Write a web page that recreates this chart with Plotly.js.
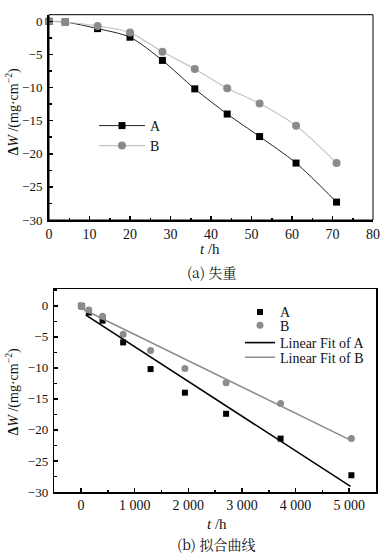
<!DOCTYPE html>
<html><head><meta charset="utf-8">
<script src="https://cdn.plot.ly/plotly-3.0.1.min.js"></script>
<style>html,body{margin:0;padding:0;background:#fff}#c{width:385px;height:557px}</style>
</head><body><div id="c"></div>
<script>
// time (h) for plot (a)
var tHours = [0, 4, 12, 20, 28, 36, 44, 52, 61, 71];
// x values for plot (b) (h)
var tB = [0, 16, 144, 400, 784, 1296, 1936, 2704, 3721, 5041];
var wA = [0, -0.1, -1.1, -2.4, -5.9, -10.2, -14.0, -17.4, -21.4, -27.3];
var wB = [0, -0.1, -0.7, -1.7, -4.6, -7.2, -10.1, -12.4, -15.75, -21.4];
// fitted lines endpoints (b)
var fitAx = [90, 5025];
var fitAy = [-1.5, -29.1];
var fitBx = [0, 5015];
var fitBy = [-0.4, -21.6];
var seriesNames = ['A', 'B', 'Linear Fit of A', 'Linear Fit of B'];

var serif = 'Liberation Serif';
var cap = 'Noto Serif CJK SC';

var traces = [
  {x: tHours, y: wA, name: seriesNames[0], mode: 'lines+markers', line: {shape: 'spline', smoothing: 0.8, color: '#222', width: 1},
   marker: {symbol: 'square', size: 7, color: '#000'}, xaxis: 'x', yaxis: 'y', legend: 'legend', cliponaxis: false},
  {x: tHours, y: wB, name: seriesNames[1], mode: 'lines+markers', line: {shape: 'spline', smoothing: 0.8, color: '#c4c4c4', width: 1.2},
   marker: {symbol: 'circle', size: 8, color: '#8a8a8a'}, xaxis: 'x', yaxis: 'y', legend: 'legend6', cliponaxis: false},
  {x: tB, y: wA, name: seriesNames[0], mode: 'markers', marker: {symbol: 'square', size: 6, color: '#000'},
   xaxis: 'x2', yaxis: 'y2', legend: 'legend2', cliponaxis: false},
  {x: tB, y: wB, name: seriesNames[1], mode: 'markers', marker: {symbol: 'circle', size: 7, color: '#8c8c8c'},
   xaxis: 'x2', yaxis: 'y2', legend: 'legend3', cliponaxis: false},
  {x: fitAx, y: fitAy, name: seriesNames[2], mode: 'lines', line: {color: '#000', width: 1.6},
   xaxis: 'x2', yaxis: 'y2', legend: 'legend4'},
  {x: fitBx, y: fitBy, name: seriesNames[3], mode: 'lines', line: {color: '#8c8c8c', width: 1.6},
   xaxis: 'x2', yaxis: 'y2', legend: 'legend5'}
];

var W = 385, H = 557;
function px(x){return x / W;}
function py(y){return 1 - y / H;}

function axBase(size){
  return {showgrid: false, zeroline: false, ticks: 'inside', ticklen: 4, tickwidth: 1.5, tickcolor: '#000',
    showline: true, linecolor: '#000', tickfont: {family: serif, size: size, color: '#111'}};
}

function itemLegend(xLeft, yTop, iw){
  return {x: px(xLeft), y: py(yTop), xanchor: 'left', yanchor: 'top', bgcolor: 'rgba(0,0,0,0)', itemwidth: iw,
    font: {family: serif, size: 14, color: '#111'}};
}

var layout = {
  width: W, height: H, margin: {l: 0, r: 0, t: 0, b: 0},
  paper_bgcolor: '#fff', plot_bgcolor: '#fff', showlegend: true,
  font: {family: serif, color: '#111'},
  separators: '. ',
  xaxis: Object.assign(axBase(14), {domain: [px(49), px(373)], range: [0, 80], dtick: 10, anchor: 'y', linewidth: 2,
    minor: {ticks: 'inside', dtick: 5, ticklen: 2.5, tickwidth: 1.5, tickcolor: '#000'}}),
  yaxis: Object.assign(axBase(13), {domain: [py(220), py(14.7)], range: [-30, 1], dtick: 5, anchor: 'x', linewidth: 2,
    ticklabelstandoff: 2, minor: {ticks: 'inside', dtick: 2.5, ticklen: 2.5, tickwidth: 1.5, tickcolor: '#000'}}),
  xaxis2: Object.assign(axBase(14), {domain: [px(54.3), px(376)], range: [-500, 5500], dtick: 1000, tickformat: ',d', anchor: 'y2',
    linewidth: 1.5, mirror: true, minor: {ticks: 'inside', dtick: 500, ticklen: 2.5, tickwidth: 1.5, tickcolor: '#000'}}),
  yaxis2: Object.assign(axBase(13), {domain: [py(492), py(289)], range: [-30, 2.7], dtick: 5, anchor: 'x2',
    linewidth: 1.5, mirror: true, ticklabelstandoff: 2,
    minor: {ticks: 'inside', dtick: 2.5, ticklen: 2.5, tickwidth: 1.5, tickcolor: '#000'}}),
  legend: itemLegend(94, 110, 46),
  legend6: itemLegend(94, 130, 46),
  legend2: itemLegend(240, 296.3, 30),
  legend3: itemLegend(240, 309.7, 30),
  legend4: itemLegend(240, 327, 30),
  legend5: itemLegend(240, 341.7, 30),
  shapes: [
    {type: 'rect', xref: 'paper', yref: 'paper', x0: px(49), x1: px(373), y0: py(220), y1: py(14.7), line: {color: '#000', width: 1}}
  ],
  annotations: [
    {xref: 'paper', yref: 'paper', x: px(12.5), y: py(112), xanchor: 'center', yanchor: 'middle', text: '<b>Δ</b><i>W</i> /(mg·cm<sup>−2</sup>)', textangle: -90, showarrow: false,
     font: {family: serif, size: 14, color: '#111'}},
    {xref: 'paper', yref: 'paper', x: px(12.5), y: py(392), xanchor: 'center', yanchor: 'middle', text: '<b>Δ</b><i>W</i> /(mg·cm<sup>−2</sup>)', textangle: -90, showarrow: false,
     font: {family: serif, size: 14, color: '#111'}},
    {xref: 'paper', yref: 'paper', x: px(210), y: py(249), xanchor: 'center', yanchor: 'middle', text: '<i>t</i> /h', showarrow: false, font: {family: serif, size: 15, color: '#111'}},
    {xref: 'paper', yref: 'paper', x: px(217), y: py(523.5), xanchor: 'center', yanchor: 'middle', text: '<i>t</i> /h', showarrow: false, font: {family: serif, size: 15, color: '#111'}},
    {xref: 'paper', yref: 'paper', x: px(212), y: py(272), xanchor: 'center', yanchor: 'middle', text: '(a) 失重', showarrow: false, font: {family: cap, size: 14, color: '#111'}},
    {xref: 'paper', yref: 'paper', x: px(216), y: py(544), xanchor: 'center', yanchor: 'middle', text: '(b) 拟合曲线', showarrow: false, font: {family: cap, size: 14, color: '#111'}}
  ]
};

Plotly.newPlot('c', traces, layout, {displayModeBar: false, staticPlot: true});
</script></body></html>
